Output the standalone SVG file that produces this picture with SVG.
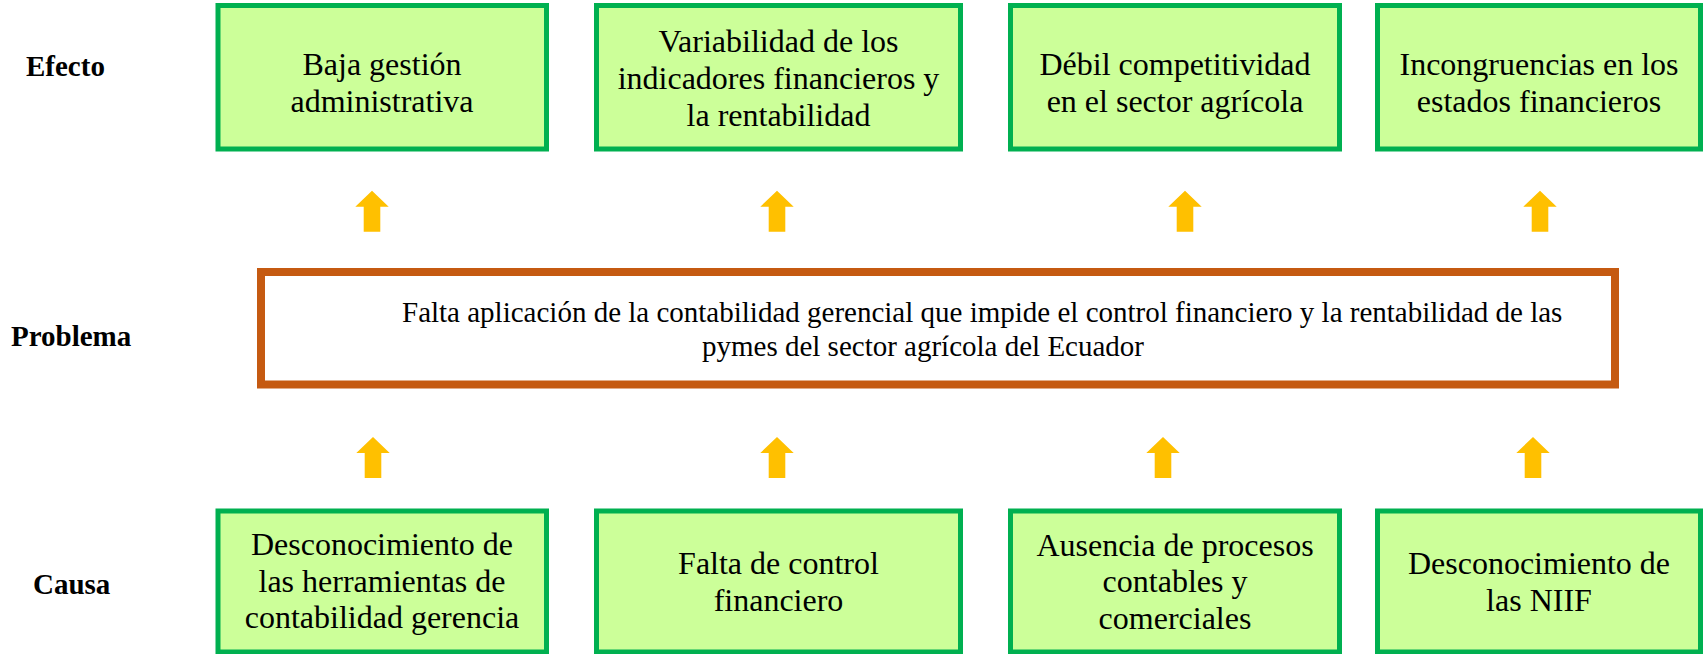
<svg xmlns="http://www.w3.org/2000/svg" width="1705" height="654" viewBox="0 0 1705 654">
<defs>
<style>
.box{fill:#CCFF99;stroke:#00B050;stroke-width:5;}
.prob{fill:#FFFFFF;stroke:#C55A11;stroke-width:8;}
.t{font-family:"Liberation Serif","Times New Roman",serif;font-size:32px;fill:#000;text-anchor:middle;}
.p{font-family:"Liberation Serif","Times New Roman",serif;font-size:29px;fill:#000;}
.lab{font-family:"Liberation Serif","Times New Roman",serif;font-size:29px;font-weight:bold;fill:#000;}
.arr{fill:#FFC000;}
</style>
<path id="up" d="M0,0 L16.7,16 L8.3,16 L8.3,41 L-8.3,41 L-8.3,16 L-16.7,16 Z"/>
</defs>
<rect width="1705" height="654" fill="#FFFFFF"/>
<g id="labels">
<text class="lab" x="26" y="76">Efecto</text>
<text class="lab" x="11" y="346">Problema</text>
<text class="lab" x="33" y="594">Causa</text>
</g>
<g id="efecto1"><rect class="box" x="218" y="5.5" width="328.5" height="143.5"/>
<text class="t" x="382" y="75">Baja gestión</text><text class="t" x="382" y="111.7">administrativa</text></g>
<g id="efecto2"><rect class="box" x="596.5" y="5.5" width="364" height="143.5"/>
<text class="t" x="778.5" y="52">Variabilidad de los</text><text class="t" x="778.5" y="89">indicadores financieros y</text><text class="t" x="778.5" y="126">la rentabilidad</text></g>
<g id="efecto3"><rect class="box" x="1010.5" y="5.5" width="329" height="143.5"/>
<text class="t" x="1175" y="75">Débil competitividad</text><text class="t" x="1175" y="111.7">en el sector agrícola</text></g>
<g id="efecto4"><rect class="box" x="1377.5" y="5.5" width="323" height="143.5"/>
<text class="t" x="1539" y="75">Incongruencias en los</text><text class="t" x="1539" y="111.7">estados financieros</text></g>
<g id="problema"><rect class="prob" x="261" y="272" width="1354" height="112.5"/>
<text class="p" x="402" y="322">Falta aplicación de la contabilidad gerencial que impide el control financiero y la rentabilidad de las</text>
<text class="p" x="923" y="355.5" text-anchor="middle">pymes del sector agrícola del Ecuador</text></g>
<g id="causa1"><rect class="box" x="218" y="511" width="328.5" height="141"/>
<text class="t" x="382" y="555">Desconocimiento de</text><text class="t" x="382" y="591.7">las herramientas de</text><text class="t" x="382" y="628.3">contabilidad gerencia</text></g>
<g id="causa2"><rect class="box" x="596.5" y="511" width="364" height="141"/>
<text class="t" x="778.5" y="574">Falta de control</text><text class="t" x="778.5" y="610.7">financiero</text></g>
<g id="causa3"><rect class="box" x="1010.5" y="511" width="329" height="141"/>
<text class="t" x="1175" y="555.5">Ausencia de procesos</text><text class="t" x="1175" y="592.2">contables y</text><text class="t" x="1175" y="628.8">comerciales</text></g>
<g id="causa4"><rect class="box" x="1377.5" y="511" width="323" height="141"/>
<text class="t" x="1539" y="574">Desconocimiento de</text><text class="t" x="1539" y="610.7">las NIIF</text></g>
<g id="connectors">
<use href="#up" class="arr" x="372" y="190.7"/>
<use href="#up" class="arr" x="777" y="190.7"/>
<use href="#up" class="arr" x="1185" y="190.7"/>
<use href="#up" class="arr" x="1540" y="190.7"/>
<use href="#up" class="arr" x="373" y="437"/>
<use href="#up" class="arr" x="777" y="437"/>
<use href="#up" class="arr" x="1163" y="437"/>
<use href="#up" class="arr" x="1533" y="437"/>
</g>
</svg>
